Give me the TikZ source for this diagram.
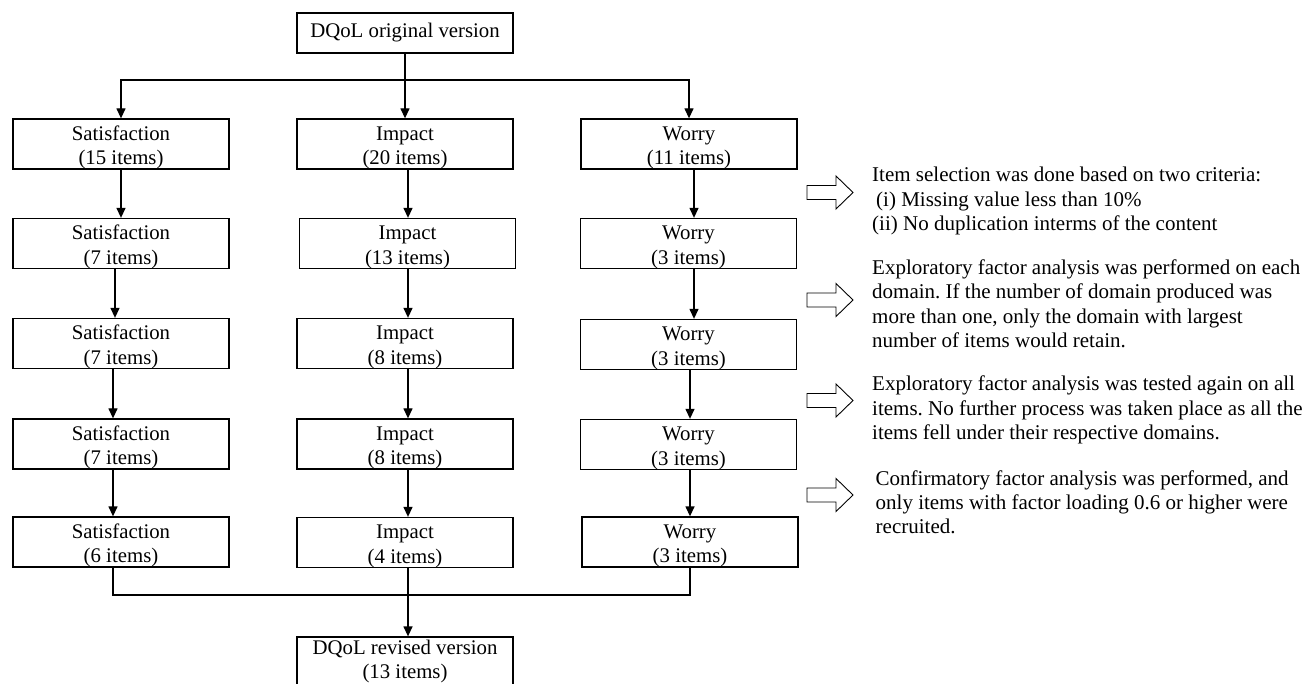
\documentclass[tikz,border=0pt]{standalone}
\usepackage{fontspec}
\setmainfont{Liberation Serif}
\usetikzlibrary{arrows.meta}
\frenchspacing
\newcommand\hollowarrow[1]{\draw[hollow, shift={(0,#1)}] (807,-7) -- (836,-7) -- (836,-16.5) -- (853,0) -- (836,16.5) -- (836,7) -- (807,7) -- cycle;}
\newcommand\twoline[2]{\begin{tabular}[b]{@{}c@{}}#1\\#2\end{tabular}}
\newcommand\notelines[1]{\begin{tabular}[t]{@{}l@{}}#1\end{tabular}}
\begin{document}
\begin{tikzpicture}[x=1pt,y=-1pt,
  box/.style={draw, line width=1.3pt, minimum width=216pt, minimum height=50pt, inner sep=0pt, text depth=0pt, font=\fontsize{20.8}{24.4}\selectfont},
  topbox/.style={draw, line width=1.3pt, minimum width=216pt, minimum height=40pt, inner sep=0pt, font=\fontsize{20.8}{24.4}\selectfont},
  flow/.style={line width=1.3pt, -{Triangle[length=10pt,width=9pt]}},
  link/.style={line width=1.3pt},
  note/.style={anchor=base west, inner sep=0pt, font=\fontsize{21}{24.4}\selectfont},
  hollow/.style={draw, line width=0.9pt, fill=white}]
\useasboundingbox (0,0) rectangle (1304,684);
\fill[white] (0,0) rectangle (1304,684);

\node[topbox] (top) at (405,33) {DQoL original version};

\node[box] (s1) at (121,144) {\twoline{Satisfaction}{(15 items)}};
\node[box] (s2) at (121,243.5) {\twoline{Satisfaction}{(7 items)}};
\node[box] (s3) at (121,343.5) {\twoline{Satisfaction}{(7 items)}};
\node[box] (s4) at (121,444) {\twoline{Satisfaction}{(7 items)}};
\node[box] (s5) at (121,542) {\twoline{Satisfaction}{(6 items)}};

\node[box] (i1) at (405,144) {\twoline{Impact}{(20 items)}};
\node[box] (i2) at (407.5,243.5) {\twoline{Impact}{(13 items)}};
\node[box] (i3) at (405,343.5) {\twoline{Impact}{(8 items)}};
\node[box] (i4) at (405,444) {\twoline{Impact}{(8 items)}};
\node[box] (i5) at (405,542.5) {\twoline{Impact}{(4 items)}};

\node[box] (w1) at (689,144) {\twoline{Worry}{(11 items)}};
\node[box] (w2) at (688.5,243.5) {\twoline{Worry}{(3 items)}};
\node[box] (w3) at (688.5,344.5) {\twoline{Worry}{(3 items)}};
\node[box] (w4) at (688.5,444.5) {\twoline{Worry}{(3 items)}};
\node[box] (w5) at (690,542) {\twoline{Worry}{(3 items)}};

\node[box, minimum height=58pt, text depth=17.5pt] (rev) at (405,666.5) {\twoline{DQoL revised version}{(13 items)}};

\coordinate (split) at (405,80);
\draw[link] (top.south) -- (split);
\draw[flow] (split) -| (s1.north);
\draw[flow] (split) -| (w1.north);
\draw[flow] (split) -- (i1.north);

\draw[flow] (s1.south) -- (s1.south |- s2.north);
\draw[flow] ([xshift=-6pt]s2.south) -- ([xshift=-6pt]s2.south |- s3.north);
\draw[flow] ([xshift=-8pt]s3.south) -- ([xshift=-8pt]s3.south |- s4.north);
\draw[flow] ([xshift=-8pt]s4.south) -- ([xshift=-8pt]s4.south |- s5.north);

\draw[flow] ([xshift=3pt]i1.south) -- ([xshift=3pt]i1.south |- i2.north);
\draw[flow] ([xshift=3pt]i3.north |- i2.south) -- ([xshift=3pt]i3.north);
\draw[flow] ([xshift=3pt]i3.south) -- ([xshift=3pt]i3.south |- i4.north);
\draw[flow] ([xshift=3pt]i4.south) -- ([xshift=3pt]i4.south |- i5.north);

\draw[flow] ([xshift=5pt]w1.south) -- ([xshift=5pt]w1.south |- w2.north);
\draw[flow] ([xshift=5.5pt]w2.south) -- ([xshift=5.5pt]w2.south |- w3.north);
\draw[flow] ([xshift=1.5pt]w3.south) -- ([xshift=1.5pt]w3.south |- w4.north);
\draw[flow] ([xshift=1.5pt]w4.south) -- ([xshift=1.5pt]w4.south |- w5.north);

\coordinate (join) at (408,595);
\draw[link] ([xshift=-8pt]s5.south) |- (join) -| (w5.south);
\draw[flow] ([xshift=3pt]i5.south) -- ([xshift=3pt]i5.south |- rev.north);

\hollowarrow{192.5}
\hollowarrow{300}
\hollowarrow{400.5}
\hollowarrow{495}

\node[note] (n1) at (872,182) {\notelines{Item selection was done based on two criteria:\\\hspace{4pt}(i) Missing value less than 10\%\\(ii) No duplication interms of the content}};
\node[note] (n2) at (872,274.5) {\notelines{Exploratory factor analysis was performed on each\\domain. If the number of domain produced was\\more than one, only the domain with largest\\number of items would retain.}};
\node[note] (n3) at (872,391) {\notelines{Exploratory factor analysis was tested again on all\\items. No further process was taken place as all the\\items fell under their respective domains.}};
\node[note] (n4) at (875.5,485) {\notelines{Confirmatory factor analysis was performed, and\\only items with factor loading 0.6 or higher were\\recruited.}};
\end{tikzpicture}
\end{document}
